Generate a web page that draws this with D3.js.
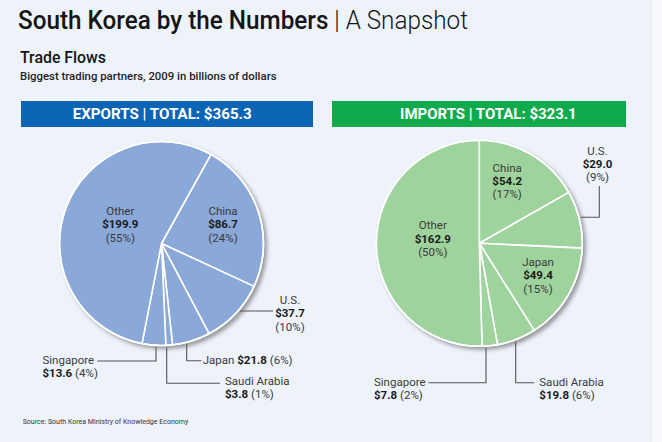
<!DOCTYPE html>
<html>
<head>
<meta charset="utf-8">
<script src="https://cdn.jsdelivr.net/npm/d3@7"></script>
<style>
  html, body { margin: 0; padding: 0; background: #eef3fa; }
  svg { display: block; }
  text { font-family: Roboto, "Open Sans", "DejaVu Sans", sans-serif; }
</style>
</head>
<body>
<svg id="chart" width="662" height="442"></svg>
<script>
// ---------- DATA ----------
const partners = ["China", "U.S.", "Japan", "Saudi Arabia", "Singapore", "Other"];
const exportValues = [86.7, 37.7, 21.8, 3.8, 13.6, 199.9];
const exportShares = [24, 10, 6, 1, 4, 55];
const importValues = [54.2, 29.0, 49.4, 19.8, 7.8, 162.9];
const importShares = [17, 9, 15, 6, 2, 50];
const exportTotal = 365.3;
const importTotal = 323.1;

// ---------- LAYOUT ----------
const W = 662, H = 442;
const FS = 11.4;           // label font size
const SX = 1.01;           // horizontal scaling of label type
const LH = 13.3;           // label line height
const svg = d3.select("#chart");

const defs = svg.append("defs");
const f = defs.append("filter").attr("id", "shadow")
  .attr("x", "-20%").attr("y", "-20%").attr("width", "140%").attr("height", "140%");
f.append("feDropShadow").attr("dx", 3).attr("dy", 3).attr("stdDeviation", 2.2)
  .attr("flood-color", "#000").attr("flood-opacity", 0.38);

svg.append("rect").attr("width", W).attr("height", H).attr("fill", "#eef3fa");
svg.append("rect").attr("x", 651).attr("width", W - 651).attr("height", H).attr("fill", "#f7f9fc");
svg.append("line").attr("x1", 651.5).attr("x2", 651.5).attr("y1", 0).attr("y2", H)
  .attr("stroke", "#e2e8f0").attr("stroke-width", 1);

// ---------- TITLES ----------
const title = svg.append("text").attr("x", 18).attr("y", 28.5).attr("font-size", 25)
  .attr("fill", "#151515").attr("textLength", 450).attr("lengthAdjust", "spacingAndGlyphs");
title.append("tspan").attr("font-weight", 500).text("South Korea by the Numbers");
title.append("tspan").attr("font-weight", 300).text(" | A Snapshot");

svg.append("text").attr("x", 20).attr("y", 62.7).attr("font-size", 17).attr("font-weight", 500)
  .attr("fill", "#151515").attr("textLength", 86).attr("lengthAdjust", "spacingAndGlyphs")
  .text("Trade Flows");
svg.append("text").attr("x", 20).attr("y", 80).attr("font-size", 11.5).attr("font-weight", 500)
  .attr("fill", "#1e1e1e").attr("textLength", 256.5).attr("lengthAdjust", "spacingAndGlyphs")
  .text("Biggest trading partners, 2009 in billions of dollars");

// ---------- HEADER BARS ----------
const headers = [
  {x: 21, w: 292, fill: "#0b64b4", tx: 72.7, tl: 179, label: `EXPORTS | TOTAL: $${exportTotal.toFixed(1)}`},
  {x: 332, w: 294, fill: "#0eaa4b", tx: 400, tl: 176.7, label: `IMPORTS | TOTAL: $${importTotal.toFixed(1)}`}
];
headers.forEach(h => {
  svg.append("rect").attr("x", h.x).attr("y", 101).attr("width", h.w).attr("height", 26).attr("fill", h.fill);
  svg.append("text").attr("x", h.tx).attr("y", 118.6).attr("font-size", 14).attr("font-weight", 700)
    .attr("fill", "#fff").attr("textLength", h.tl).attr("lengthAdjust", "spacingAndGlyphs").text(h.label);
});

// ---------- PIES ----------
const fmt = v => "$" + v.toFixed(1);

// one <text> per label; each line is a group of tspans
function addLabel(g, x, y, lines, anchor) {
  const t = g.append("text")
    .attr("transform", `translate(${x},${y}) scale(${SX},1)`)
    .attr("text-anchor", anchor).attr("font-size", FS);
  lines.forEach((parts, li) => {
    parts.forEach((p, pi) => {
      const s = t.append("tspan").attr("font-weight", p.b ? 700 : 400)
        .attr("fill", p.b ? "#1a1a1a" : "#3a3a3a").text(p.t);
      if (pi === 0) s.attr("x", 0).attr("y", li * LH);
    });
  });
}

function drawPie(cfg) {
  const {cx, cy, r, values, shares, color, start, labels} = cfg;
  const data = partners.map((p, i) => ({name: p, value: values[i], share: shares[i]}));
  const pie = d3.pie().value(d => d.value).sort(null).startAngle(start).endAngle(start + 2 * Math.PI);
  const arc = d3.arc().innerRadius(0).outerRadius(r);
  const g = svg.append("g").attr("transform", `translate(${cx},${cy})`);

  g.append("circle").attr("r", r + 0.5).attr("fill", color).attr("filter", "url(#shadow)");
  g.selectAll("path.slice").data(pie(data)).join("path").attr("class", "slice")
    .attr("d", arc).attr("fill", color)
    .attr("stroke", "#fff").attr("stroke-width", 1.6).attr("stroke-linejoin", "round");
  g.append("circle").attr("r", r).attr("fill", "none").attr("stroke", "#fff").attr("stroke-width", 1.6);

  const lg = svg.append("g");
  data.forEach(d => {
    const L = labels[d.name];
    if (!L) return;
    const val = fmt(d.value), sh = `(${d.share}%)`;
    if (L.type === "block") {
      addLabel(lg, L.x, L.y, [[{t: d.name}], [{t: val, b: true}], [{t: sh}]], "middle");
    } else if (L.type === "two") {
      addLabel(lg, L.x, L.y, [[{t: d.name}], [{t: val, b: true}, {t: " " + sh}]], "start");
    } else if (L.type === "one") {
      addLabel(lg, L.x, L.y, [[{t: d.name + " "}, {t: val, b: true}, {t: " " + sh}]], "start");
    }
    if (L.leader) {
      const ld = L.leader;
      let p0;
      if (ld.dir === "v") {
        const dx = ld.x - cx;
        p0 = [ld.x, cy + Math.sqrt(r * r - dx * dx) + 2];
      } else {
        const dy = ld.y - cy;
        p0 = [cx + Math.sqrt(r * r - dy * dy) + 2, ld.y];
      }
      const pts = [p0].concat(ld.pts);
      lg.append("path").attr("d", d3.line()(pts)).attr("fill", "none")
        .attr("stroke", "#555").attr("stroke-width", 1.1);
    }
  });
}

drawPie({
  cx: 161.5, cy: 243.5, r: 102, values: exportValues, shares: exportShares,
  color: "#8aa8d8", start: 29 * Math.PI / 180,
  labels: {
    "China": {type: "block", x: 223, y: 215},
    "Other": {type: "block", x: 120.3, y: 215},
    "U.S.": {type: "block", x: 290, y: 304, leader: {dir: "h", y: 311, pts: [[273, 311]]}},
    "Japan": {type: "one", x: 202.7, y: 364.3, leader: {dir: "v", x: 186.7, pts: [[186.7, 360.7], [201.5, 360.7]]}},
    "Saudi Arabia": {type: "two", x: 225, y: 385.2, leader: {dir: "v", x: 166.7, pts: [[166.7, 383.3], [220, 383.3]]}},
    "Singapore": {type: "two", x: 42.5, y: 363.8, leader: {dir: "v", x: 156, pts: [[156, 361], [97.3, 361]]}}
  }
});

drawPie({
  cx: 479.3, cy: 243.3, r: 103, values: importValues, shares: importShares,
  color: "#9fd39d", start: 0,
  labels: {
    "China": {type: "block", x: 507.2, y: 171.5},
    "Other": {type: "block", x: 432.8, y: 229.3},
    "Japan": {type: "block", x: 538, y: 266},
    "U.S.": {type: "block", x: 597.5, y: 154.5, leader: {dir: "h", y: 217.3, pts: [[599.3, 217.3], [599.3, 186]]}},
    "Saudi Arabia": {type: "two", x: 539.3, y: 385.5, leader: {dir: "v", x: 515.7, pts: [[515.7, 382.7], [534.3, 382.7]]}},
    "Singapore": {type: "two", x: 374, y: 385.5, leader: {dir: "v", x: 486, pts: [[486, 382.7], [428.3, 382.7]]}}
  }
});

// ---------- SOURCE ----------
svg.append("text").attr("x", 22.7).attr("y", 423.5).attr("font-size", 8).attr("fill", "#333")
  .attr("textLength", 165.6).attr("lengthAdjust", "spacingAndGlyphs")
  .text("Source: South Korea Ministry of Knowledge Economy");
</script>
</body>
</html>
